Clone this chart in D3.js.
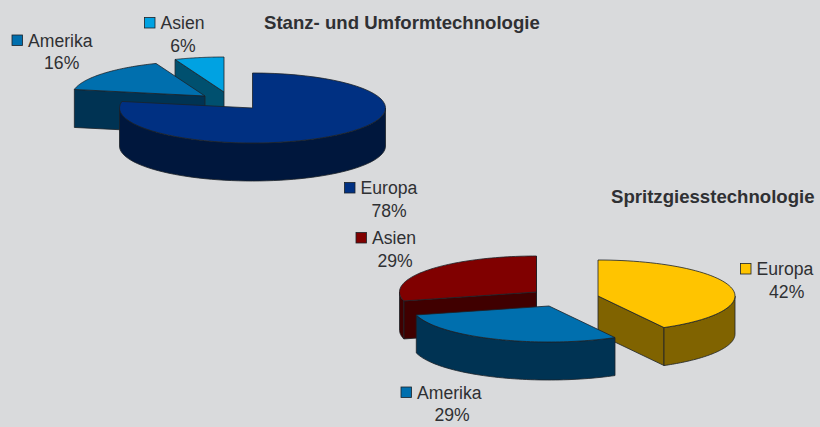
<!DOCTYPE html>
<html><head><meta charset="utf-8">
<script src="https://cdn.jsdelivr.net/npm/d3@7"></script>
<style>html,body{margin:0;padding:0;background:#d9dadc}svg{display:block}text{font-family:"Liberation Sans",Arial,sans-serif;fill:#2f3033}</style>
</head><body><svg id="c" width="820" height="427"></svg>
<script>
const categories = ["Europa", "Amerika", "Asien"];
const stanzValues = [78, 16, 6];
const spritzValues = [42, 29, 29];
const stanzColors = ["#003082", "#006fae", "#00a2e2"];
const stanzWalls = ["#00173d", "#003353", "#00506f"];
const spritzColors = ["#ffc400", "#006fae", "#800000"];
const spritzWalls = ["#806300", "#003353", "#400000"];
const stanzTitle = "Stanz- und Umformtechnologie";
const spritzTitle = "Spritzgiesstechnologie";

const svg = d3.select("#c");
const rx = 133, ry = 35, depth = 38;
const pie = d3.pie().sort(null).value(d => d);
const line = d3.line();

function drawPie(values, colors, walls, opt) {
  const arcs = pie(values);
  const g = svg.append("g");
  opt.order.forEach(i => {
    const a = arcs[i], c = opt.centers[i];
    const R = opt.rx || rx, Y = opt.ry || ry;
    const P = (t, dz = 0) => [c[0] + R * Math.sin(t), c[1] - Y * Math.cos(t) + dz];
    const samples = (t0, t1) => d3.range(0, 61).map(k => t0 + (t1 - t0) * k / 60);
    const style = (sel, fill) => sel.attr("fill", fill).attr("stroke", "#1c2228")
      .attr("stroke-width", 0.8).attr("stroke-linejoin", "round");
    // Radial side walls, only those facing the viewer
    [[a.startAngle, -1], [a.endAngle, 1]].forEach(([t, side]) => {
      const normal = t + side * Math.PI / 2;
      if (Math.cos(normal) < 0) {
        style(g.append("path").attr("d", line([P(t), [c[0], c[1]], [c[0], c[1] + depth], P(t, depth)]) + "Z"), walls[i]);
      }
    });
    // Outer rim wall, the front half only
    const lo = Math.max(a.startAngle, Math.PI / 2);
    const hi = Math.min(a.endAngle, Math.PI * 1.5);
    if (hi > lo) {
      const top = samples(lo, hi).map(t => P(t));
      const bottom = samples(hi, lo).map(t => P(t, depth));
      style(g.append("path").attr("d", line(top.concat(bottom)) + "Z"), walls[i]);
    }
    // Top face
    const face = samples(a.startAngle, a.endAngle).map(t => P(t)).concat([[c[0], c[1]]]);
    style(g.append("path").attr("d", line(face) + "Z"), colors[i]);
  });
  // Legends
  opt.labels.forEach((l, i) => {
    const lg = svg.append("g");
    lg.append("rect").attr("x", l.sx).attr("y", l.sy).attr("width", 10.5).attr("height", 10.5)
      .attr("fill", colors[i]).attr("stroke", "#1c2228").attr("stroke-width", 0.8);
    lg.append("text").attr("x", l.sx + 16).attr("y", l.sy + 11.5).attr("font-size", 17.6).text(categories[i]);
    lg.append("text").attr("x", l.px).attr("y", l.sy + 34.3).attr("text-anchor", "middle").attr("font-size", 17.6).text(values[i] + "%");
  });
  svg.append("text").attr("x", opt.title[0]).attr("y", opt.title[1]).attr("font-size", 18.6)
    .attr("font-weight", "bold").text(opt.titleText);
}

drawPie(stanzValues, stanzColors, stanzWalls, {
  centers: [[252.5, 108], [205, 96], [224, 92]],
  order: [2, 1, 0],
  labels: [{sx: 344.5, sy: 182.5, px: 389}, {sx: 12, sy: 35, px: 61.7}, {sx: 144.5, sy: 17.5, px: 183}],
  title: [264, 28.5], titleText: stanzTitle
});
drawPie(spritzValues, spritzColors, spritzWalls, {
  rx: 137, ry: 36,
  centers: [[598, 296], [549, 306], [536.5, 292]],
  order: [2, 0, 1],
  labels: [{sx: 740.5, sy: 263.5, px: 786.7}, {sx: 401, sy: 387, px: 452}, {sx: 356, sy: 232.5, px: 395}],
  title: [611, 203], titleText: spritzTitle
});
</script></body></html>
